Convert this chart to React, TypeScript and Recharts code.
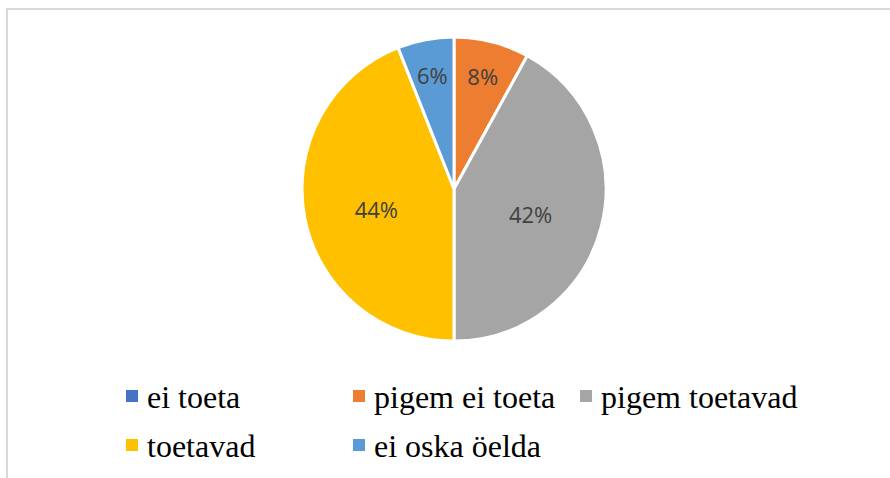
import { PieChart, Pie, Cell, Legend } from "recharts";

const CATEGORIES = ["ei toeta", "pigem ei toeta", "pigem toetavad", "toetavad", "ei oska öelda"];
const SHARES = [0, 8, 42, 44, 6];
const COLORS = ["#4472C4", "#ED7D31", "#A5A5A5", "#FFC000", "#5B9BD5"];

const RADIAN = Math.PI / 180;

const data = CATEGORIES.map((name, i) => ({ name, value: SHARES[i] }));

function renderLabel(props: any) {
  const { cx, cy, midAngle, outerRadius, percent, value } = props;
  if (!value) return null;
  // small slices get their label pushed further out, like Excel's best fit
  const small = percent < 0.1;
  const r = outerRadius * (small ? 0.76 : 0.52);
  const x = cx + r * Math.cos(-midAngle * RADIAN);
  const y = cy + r * Math.sin(-midAngle * RADIAN) + (small ? -1 : 5);
  return (
    <text
      x={x}
      y={y}
      fill="#404040"
      fontSize={22}
      fontFamily="'Open Sans', sans-serif"
      textAnchor="middle"
      dominantBaseline="central"
    >
      {`${Math.round(percent * 100)}%`}
    </text>
  );
}

function LegendBox() {
  return (
    <div
      style={{
        display: "grid",
        gridTemplateColumns: "227px 227px 227px",
        paddingLeft: 118,
        fontFamily: '"Liberation Serif", serif',
        fontSize: 32,
        color: "#000",
      }}
    >
      {CATEGORIES.map((name, i) => (
        <div key={name} style={{ position: "relative", height: 49, lineHeight: "49px", whiteSpace: "nowrap" }}>
          <span
            style={{
              position: "absolute",
              left: 0,
              top: 17,
              width: 12,
              height: 12,
              background: COLORS[i],
            }}
          />
          <span style={{ paddingLeft: 21 }}>{name}</span>
        </div>
      ))}
    </div>
  );
}

export default function App() {
  return (
    <div
      style={{
        position: "absolute",
        left: 6,
        top: 8,
        width: 910,
        height: 490,
        border: "2px solid #d9d9d9",
        boxSizing: "border-box",
        background: "#fff",
      }}
    >
      <PieChart width={890} height={478} margin={{ top: 0, right: 0, bottom: 0, left: 0 }}>
        <Pie
          data={data}
          dataKey="value"
          nameKey="name"
          cx={446}
          cy={179}
          outerRadius={152}
          startAngle={90}
          endAngle={-270}
          stroke="#fff"
          strokeWidth={3}
          label={renderLabel}
          labelLine={false}
          isAnimationActive={false}
        >
          {data.map((d, i) => (
            <Cell key={d.name} fill={COLORS[i]} />
          ))}
        </Pie>
        <Legend
          content={() => <LegendBox />}
          wrapperStyle={{ position: "absolute", left: 0, top: 363, width: 890, height: 100 }}
        />
      </PieChart>
    </div>
  );
}
